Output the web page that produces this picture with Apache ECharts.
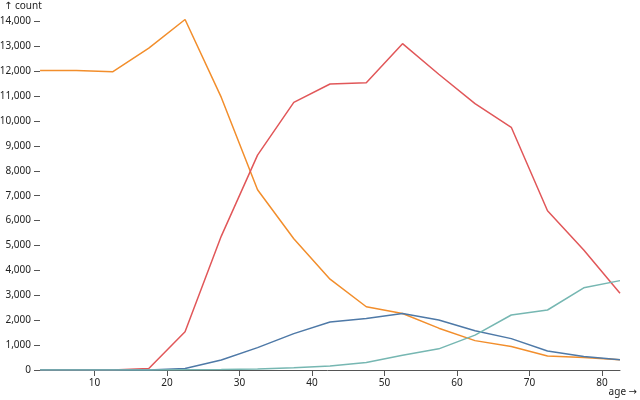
<!DOCTYPE html>
<html>
<head>
<meta charset="utf-8">
<script src="https://cdn.jsdelivr.net/npm/echarts@6/dist/echarts.min.js"></script>
<style>html,body{margin:0;padding:0;background:#fff}#c{width:640px;height:400px}</style>
</head>
<body>
<div id="c"></div>
<script>
const ages = [2.5, 7.5, 12.5, 17.5, 22.5, 27.5, 32.5, 37.5, 42.5, 47.5, 52.5, 57.5, 62.5, 67.5, 72.5, 77.5, 82.5];
const neverMarried = [12030, 12030, 11980, 12930, 14080, 10950, 7240, 5270, 3650, 2540, 2270, 1680, 1180, 940, 560, 500, 410];
const married = [0, 0, 0, 60, 1540, 5380, 8630, 10750, 11490, 11540, 13110, 11880, 10700, 9750, 6400, 4820, 3080];
const divorced = [0, 0, 0, 0, 60, 400, 900, 1460, 1930, 2070, 2270, 2010, 1580, 1260, 760, 540, 410];
const widowed = [0, 0, 0, 0, 10, 20, 40, 90, 160, 300, 590, 850, 1400, 2210, 2410, 3300, 3590];
const xTicks = [10, 20, 30, 40, 50, 60, 70, 80];
const yTicks = [0,1000,2000,3000,4000,5000,6000,7000,8000,9000,10000,11000,12000,13000,14000];
const seriesNames = ['Never married', 'Married', 'Divorced', 'Widowed'];
const seriesValues = [neverMarried, married, divorced, widowed];
const colors = ['#f28e2c', '#e15759', '#4e79a7', '#76b7b2'];

const font = '"Noto Sans", "Open Sans", sans-serif';
const arrowFont = '"DejaVu Sans", sans-serif';
const chart = echarts.init(document.getElementById('c'), null, {renderer: 'canvas'});
chart.setOption({
  animation: false,
  grid: {left: 35, right: 20, top: 19, bottom: 30, containLabel: false, outerBoundsMode: 'none'},
  xAxis: {
    type: 'value', min: 1.8, max: 82.5,
    axisLine: {show: true, lineStyle: {color: '#555', width: 1}},
    axisTick: {show: true, length: 6, customValues: xTicks, lineStyle: {color: '#555'}},
    axisLabel: {customValues: xTicks, color: '#222', fontSize: 10, fontFamily: font, margin: 8},
    splitLine: {show: false}
  },
  yAxis: {
    type: 'value', min: 0, max: 14100, offset: -5,
    axisLine: {show: false},
    axisTick: {show: true, length: 6, customValues: yTicks, lineStyle: {color: '#555'}},
    axisLabel: {customValues: yTicks, color: '#222', fontSize: 10, fontFamily: font, margin: 9,
      formatter: v => v.toLocaleString('en-US')},
    splitLine: {show: false}
  },
  graphic: [
    {type: 'text', left: 4, top: 1, style: {
      text: '{a|↑} count', fill: '#222', font: '10px ' + font,
      rich: {a: {fontFamily: arrowFont, fontSize: 10, fill: '#222'}}
    }},
    {type: 'text', right: 3, top: 387, style: {
      text: 'age {a|→}', fill: '#222', font: '10px ' + font,
      rich: {a: {fontFamily: arrowFont, fontSize: 10, fill: '#222'}}
    }}
  ],
  series: seriesValues.map((vals, i) => ({
    name: seriesNames[i], type: 'line', showSymbol: false, symbol: 'none',
    data: ages.map((a, j) => [a, vals[j]]),
    lineStyle: {color: colors[i], width: 1.5},
    itemStyle: {color: colors[i]}
  }))
});
</script>
</body>
</html>
